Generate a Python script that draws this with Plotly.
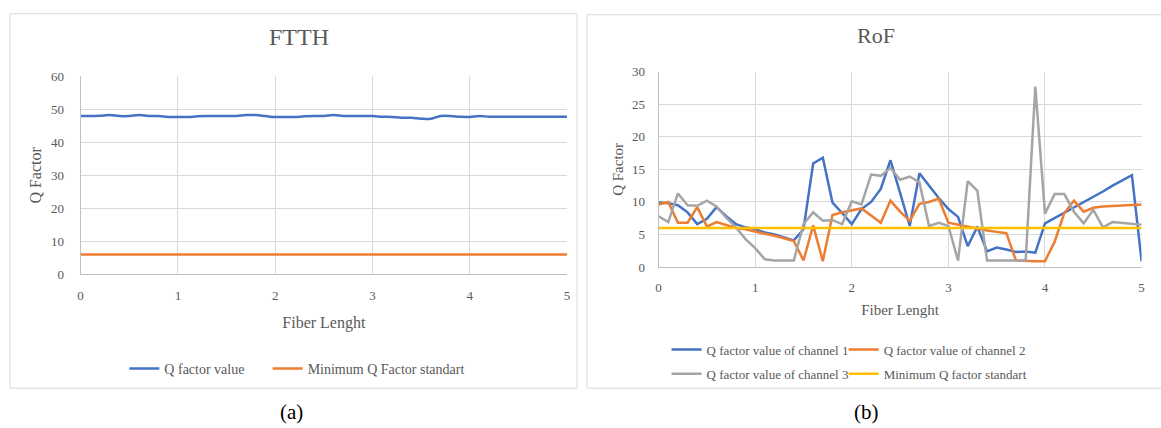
import plotly.graph_objects as go

# ---------------- data ----------------
fiber_length = [round(i * 0.1, 1) for i in range(51)]

ftth_q = [48.0, 48.0, 48.1, 48.3, 48.0, 48.0, 48.3, 48.0, 48.0, 47.7,
          47.7, 47.7, 47.9, 48.0, 48.0, 48.0, 48.0, 48.3, 48.3, 48.0,
          47.7, 47.7, 47.7, 47.9, 48.0, 48.0, 48.3, 48.0, 48.0, 48.0,
          48.0, 47.8, 47.7, 47.5, 47.5, 47.2, 47.2, 48.0, 48.0, 47.8,
          47.7, 48.0, 47.8, 47.8, 47.8, 47.8, 47.8, 47.8, 47.8, 47.8, 47.8]
ftth_min = [6.0] * 51

rof_ch1 = [9.9, 9.8, 9.5, 8.4, 6.6, 7.4, 9.2, 7.8, 6.6, 6.1,
           5.8, 5.3, 5.0, 4.6, 4.1, 5.8, 15.9, 16.8, 9.9, 8.3,
           6.6, 8.9, 10.0, 12.0, 16.4, 11.4, 6.3, 14.4, 12.5, 10.6,
           8.9, 7.7, 3.2, 6.2, 2.4, 3.0, 2.7, 2.3, 2.4, 2.2,
           6.7, 7.5, 8.3, 9.2, 10.0, 10.8, 11.6, 12.5, 13.3, 14.1, 0.9]
rof_ch2 = [9.6, 10.0, 6.8, 6.8, 9.2, 6.2, 6.9, 6.5, 6.0, 5.8,
           5.4, 5.1, 4.8, 4.4, 4.0, 1.0, 6.4, 0.9, 8.0, 8.4,
           8.7, 9.0, 7.9, 6.8, 10.2, 8.5, 7.1, 9.7, 10.0, 10.5,
           6.8, 6.5, 6.2, 5.8, 5.6, 5.4, 5.2, 1.0, 0.9, 0.9,
           0.9, 3.9, 8.3, 10.2, 8.5, 9.1, 9.3, 9.4, 9.4, 9.5, 9.6]
rof_ch3 = [7.8, 6.9, 11.3, 9.5, 9.4, 10.2, 9.3, 7.6, 6.1, 4.3,
           2.9, 1.2, 1.0, 1.0, 1.0, 6.6, 8.4, 7.1, 7.2, 6.6,
           10.1, 9.6, 14.2, 14.0, 15.2, 13.4, 13.9, 13.0, 6.3, 6.8,
           6.3, 1.0, 13.2, 11.7, 1.0, 1.0, 1.0, 1.0, 1.0, 27.7,
           8.2, 11.2, 11.2, 8.5, 6.7, 8.8, 6.1, 6.9, 6.8, 6.7, 6.5]
rof_min = [6.0] * 51

x_ticks = [0, 1, 2, 3, 4, 5]
ftth_y_ticks = [0, 10, 20, 30, 40, 50, 60]
rof_y_ticks = [0, 5, 10, 15, 20, 25, 30]

# ---------------- styling ----------------
W, H = 1161, 428
SERIF = "Liberation Serif, Times New Roman, serif"
TXT = "#595959"
GRID = "#d9d9d9"
BLUE, ORANGE, GRAY, YELLOW = "#4472C4", "#ED7D31", "#A5A5A5", "#FFC000"


def px_x(p):
    return p / W


def px_y(p):
    return 1 - p / H


fig = go.Figure()

# FTTH
fig.add_trace(go.Scatter(x=fiber_length, y=ftth_q, mode="lines", name="Q factor value",
                         line=dict(color=BLUE, width=2.5, shape="spline"),
                         xaxis="x", yaxis="y", legend="legend"))
fig.add_trace(go.Scatter(x=fiber_length, y=ftth_min, mode="lines", name="Minimum Q Factor standart",
                         line=dict(color=ORANGE, width=2.5),
                         xaxis="x", yaxis="y", legend="legend2"))

# RoF
fig.add_trace(go.Scatter(x=fiber_length, y=rof_ch1, mode="lines", name="Q factor value of channel 1",
                         line=dict(color=BLUE, width=2.5), xaxis="x2", yaxis="y2", legend="legend3"))
fig.add_trace(go.Scatter(x=fiber_length, y=rof_ch2, mode="lines", name="Q factor value of channel 2",
                         line=dict(color=ORANGE, width=2.5), xaxis="x2", yaxis="y2", legend="legend4"))
fig.add_trace(go.Scatter(x=fiber_length, y=rof_ch3, mode="lines", name="Q factor value of channel 3",
                         line=dict(color=GRAY, width=2.5), xaxis="x2", yaxis="y2", legend="legend5"))
fig.add_trace(go.Scatter(x=fiber_length, y=rof_min, mode="lines", name="Minimum Q factor standart",
                         line=dict(color=YELLOW, width=2.5), xaxis="x2", yaxis="y2", legend="legend6"))

axis_common = dict(showgrid=True, gridcolor=GRID, gridwidth=1, zeroline=False,
                   showline=True, linecolor="#bfbfbf", linewidth=1, mirror=False,
                   ticks="", tickfont=dict(family=SERIF, size=13, color=TXT))


def leg(xp, yp, size):
    return dict(orientation="h", x=px_x(xp), xanchor="left", y=px_y(yp), yanchor="middle",
                font=dict(family=SERIF, size=size, color=TXT), bgcolor="rgba(0,0,0,0)",
                itemwidth=30)


fig.update_layout(
    width=W, height=H,
    margin=dict(l=0, r=0, t=0, b=0),
    paper_bgcolor="white", plot_bgcolor="white",
    font=dict(family=SERIF, color=TXT),
    xaxis=dict(domain=[px_x(78), px_x(567)], range=[0, 5], tickvals=x_ticks, ticklabelstandoff=9,
               title=dict(text="Fiber Lenght", font=dict(family=SERIF, size=16, color=TXT), standoff=14),
               anchor="y", **axis_common),
    yaxis=dict(domain=[px_y(277), px_y(72)], range=[0, 60], tickvals=ftth_y_ticks, ticklabelstandoff=13,
               title=dict(text="Q Factor", font=dict(family=SERIF, size=16, color=TXT), standoff=5),
               anchor="x", **axis_common),
    xaxis2=dict(domain=[px_x(659), px_x(1144.5)], range=[0, 5], tickvals=x_ticks, ticklabelstandoff=8,
                title=dict(text="Fiber Lenght", font=dict(family=SERIF, size=15, color=TXT), standoff=10),
                anchor="y2", **axis_common),
    yaxis2=dict(domain=[px_y(269.5), px_y(67)], range=[0, 30], tickvals=rof_y_ticks, ticklabelstandoff=10,
                title=dict(text="Q Factor", font=dict(family=SERIF, size=15, color=TXT), standoff=4),
                anchor="x2", **axis_common),
    legend=leg(122, 375, 14),
    legend2=leg(266, 375, 14),
    legend3=leg(667, 355, 13),
    legend4=leg(845, 355, 13),
    legend5=leg(667, 380, 13),
    legend6=leg(845, 380, 13),
    showlegend=True,
)

# chart frames
fig.add_shape(type="rect", xref="paper", yref="paper",
              x0=px_x(7), x1=px_x(577), y0=px_y(395), y1=px_y(7),
              line=dict(color=GRID, width=1))
fig.add_shape(type="rect", xref="paper", yref="paper",
              x0=px_x(587), x1=px_x(1165), y0=px_y(395), y1=px_y(8),
              line=dict(color=GRID, width=1))

# titles and captions
for txt, xp, yp, size, col in [("FTTH", 298, 31, 24, TXT), ("RoF", 878, 30, 22, TXT),
                               ("(a)", 290, 420, 21, "black"), ("(b)", 868, 420, 21, "black")]:
    fig.add_annotation(text=txt, x=px_x(xp), y=px_y(yp), xref="paper", yref="paper",
                       xanchor="center", yanchor="middle", showarrow=False,
                       font=dict(family=SERIF, size=size, color=col))

fig.write_html("out.html", config={"displayModeBar": False},
               post_script="document.body.style.margin='0';document.body.style.overflow='hidden';")
